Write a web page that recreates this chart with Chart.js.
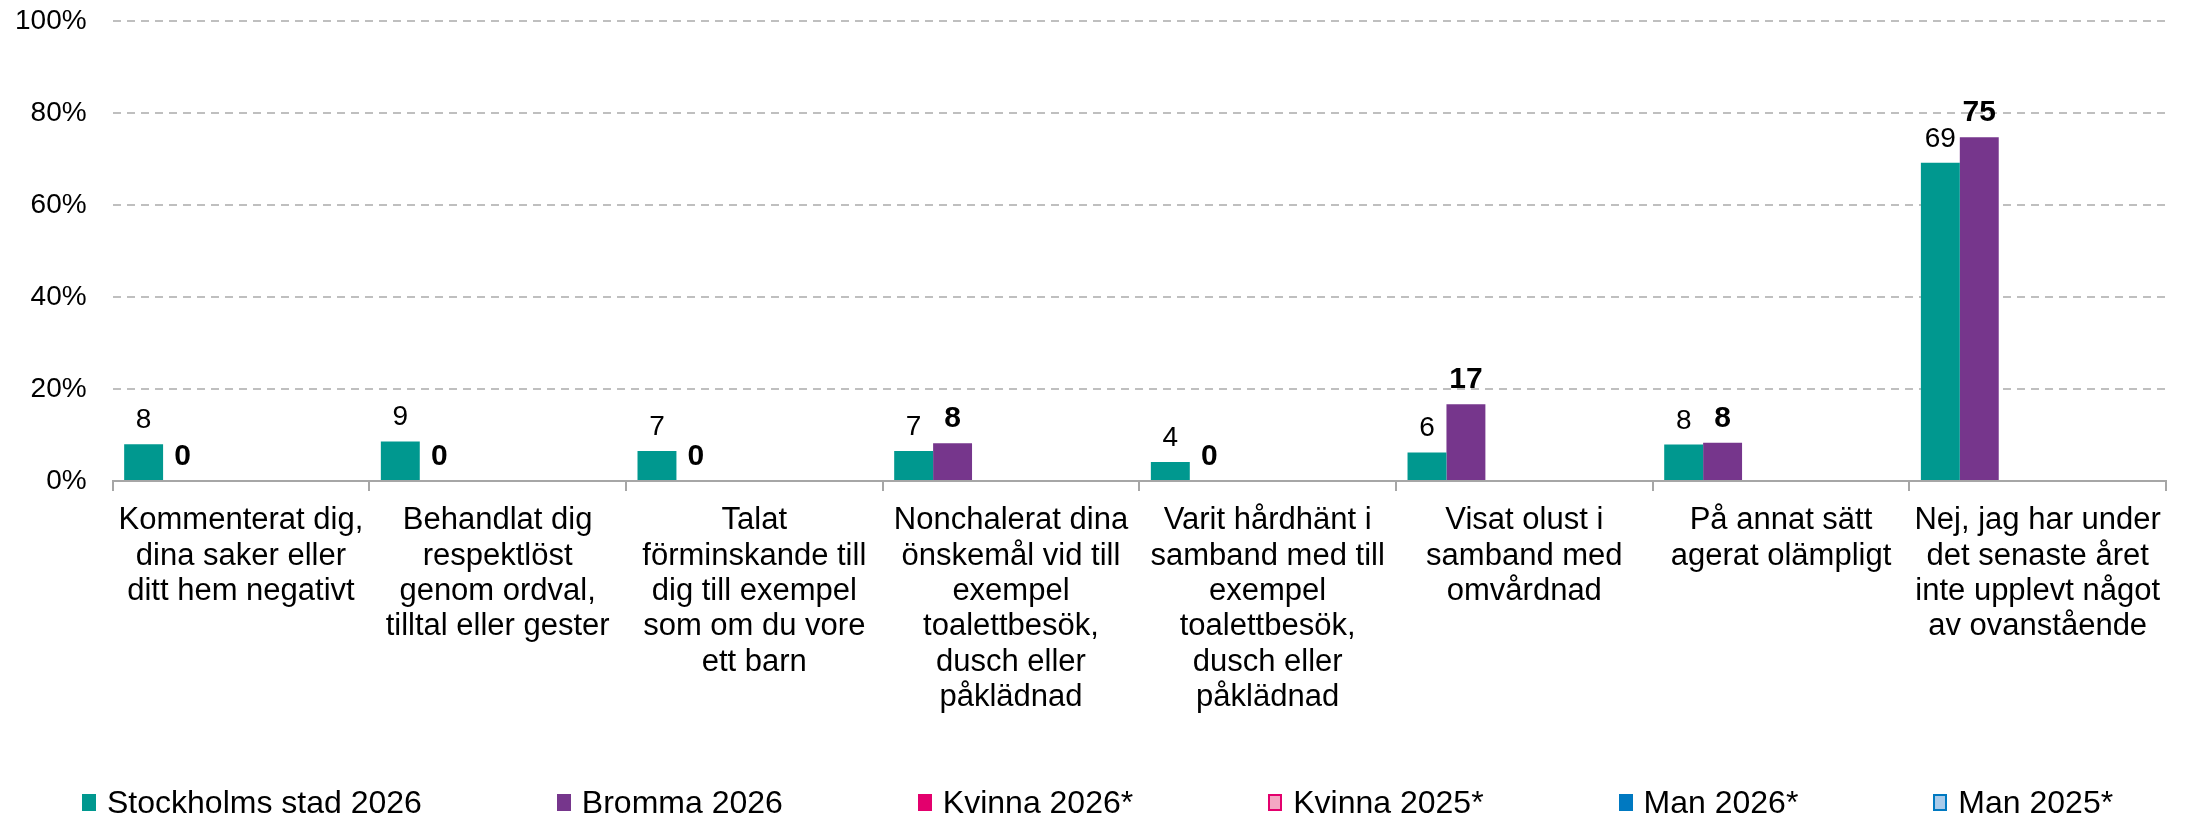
<!DOCTYPE html>
<html lang="sv">
<head>
<meta charset="utf-8">
<title>Kränkande bemötande</title>
<script src="https://cdn.jsdelivr.net/npm/chart.js@4.4.1/dist/chart.umd.min.js"></script>
<style>
  body { margin: 0; background: #fff; font-family: "Liberation Sans", Arial, sans-serif; }
  #wrap { position: relative; width: 2190px; height: 816px; overflow: hidden; }
  #chartBox { position: absolute; left: 0; top: 0; width: 2190px; height: 786px; }
  #legend { position: absolute; left: 82px; top: 786px; height: 32px; display: flex; align-items: center; }
  #legend .item { display: flex; align-items: center; margin-right: 135px; }
  #legend .box { width: 14px; height: 17px; margin-right: 11px; box-sizing: border-box; }
  #legend span { font-size: 32px; line-height: 32px; color: #000; white-space: nowrap; }
</style>
</head>
<body>
<div id="wrap">
  <div id="chartBox"><canvas id="chart"></canvas></div>
  <div id="legend"></div>
</div>
<script>
const FONT = '"Liberation Sans", Arial, sans-serif';

const categories = [
  ["Kommenterat dig,", "dina saker eller", "ditt hem negativt"],
  ["Behandlat dig", "respektlöst", "genom ordval,", "tilltal eller gester"],
  ["Talat", "förminskande till", "dig till exempel", "som om du vore", "ett barn"],
  ["Nonchalerat dina", "önskemål vid till", "exempel", "toalettbesök,", "dusch eller", "påklädnad"],
  ["Varit hårdhänt i", "samband med till", "exempel", "toalettbesök,", "dusch eller", "påklädnad"],
  ["Visat olust i", "samband med", "omvårdnad"],
  ["På annat sätt", "agerat olämpligt"],
  ["Nej, jag har under", "det senaste året", "inte upplevt något", "av ovanstående"]
];

const seriesNames = ["Stockholms stad 2026", "Bromma 2026", "Kvinna 2026*", "Kvinna 2025*", "Man 2026*", "Man 2025*"];
const seriesFill = ["#00988F", "#76368C", "#E3006D", "#F4A7C3", "#0079C1", "#A9CBEA"];
const seriesEdge = ["#00988F", "#76368C", "#E3006D", "#E3006D", "#0079C1", "#0079C1"];

// percent values per category
const stockholm2026 = [8.0, 8.6, 6.5, 6.5, 4.1, 6.2, 7.9, 69.2];
const bromma2026 = [0, 0, 0, 8.2, 0, 16.7, 8.3, 74.7];
const kvinna2026 = [];
const kvinna2025 = [];
const man2026 = [];
const man2025 = [];
const seriesData = [stockholm2026, bromma2026, kvinna2026, kvinna2025, man2026, man2025];

// value label font per series (Bromma in bold)
const labelFonts = ["28px " + FONT, "bold 30px " + FONT, "28px " + FONT, "28px " + FONT, "28px " + FONT, "28px " + FONT];

const yTicks = [0, 20, 40, 60, 80, 100];

const datasets = seriesNames.map((name, i) => ({
  label: name,
  data: seriesData[i],
  backgroundColor: seriesFill[i],
  borderColor: seriesEdge[i],
  borderWidth: 0,
  categoryPercentage: 0.91,
  barPercentage: 1
}));

// draws the number above each bar
const valueLabels = {
  id: "valueLabels",
  afterDatasetsDraw(chart) {
    const ctx = chart.ctx;
    chart.data.datasets.forEach((ds, i) => {
      const meta = chart.getDatasetMeta(i);
      if (!ds.data.length || meta.hidden) return;
      ctx.save();
      ctx.font = labelFonts[i];
      ctx.fillStyle = "#000";
      ctx.textAlign = "center";
      ctx.textBaseline = "alphabetic";
      meta.data.forEach((bar, j) => {
        ctx.fillText(String(Math.round(ds.data[j])), bar.x, bar.y - 16);
      });
      ctx.restore();
    });
  }
};

const chart = new Chart(document.getElementById("chart"), {
  type: "bar",
  data: { labels: categories, datasets: datasets },
  plugins: [valueLabels],
  options: {
    responsive: true,
    maintainAspectRatio: false,
    animation: false,
    // y axis box carries an extra tick padding on its left, hence the negative value
    layout: { padding: { left: -11, right: 24, top: 21, bottom: 59 } },
    plugins: {
      legend: { display: false },
      tooltip: { enabled: false }
    },
    scales: {
      x: {
        afterFit(scale) { scale.paddingLeft = 0; scale.paddingRight = 0; },
        grid: {
          offset: true,
          drawOnChartArea: false,
          drawTicks: true,
          tickLength: 10,
          color: "#a6a6a6",
          lineWidth: 2
        },
        border: { display: true, color: "#a6a6a6", width: 2 },
        ticks: {
          color: "#000",
          padding: 12,
          maxRotation: 0,
          autoSkip: false,
          font: { family: FONT, size: 31, lineHeight: 1.14 }
        }
      },
      y: {
        min: 0,
        max: 100,
        afterBuildTicks(axis) { axis.ticks = yTicks.map(v => ({ value: v })); },
        afterFit(scale) { scale.paddingTop = 0; scale.paddingBottom = 0; },
        grid: {
          drawTicks: false,
          color: "#bfbfbf",
          lineWidth: 2
        },
        border: { display: false, dash: [8, 6] },
        ticks: {
          color: "#000",
          padding: 26,
          font: { family: FONT, size: 28 },
          callback: v => v + "%"
        }
      }
    }
  }
});

// legend built from the chart's own datasets
const legendEl = document.getElementById("legend");
chart.data.datasets.forEach((ds) => {
  const item = document.createElement("div");
  item.className = "item";
  const box = document.createElement("div");
  box.className = "box";
  box.style.background = ds.backgroundColor;
  if (ds.borderColor !== ds.backgroundColor) box.style.border = "2px solid " + ds.borderColor;
  const txt = document.createElement("span");
  txt.textContent = ds.label;
  item.appendChild(box);
  item.appendChild(txt);
  legendEl.appendChild(item);
});
</script>
</body>
</html>
